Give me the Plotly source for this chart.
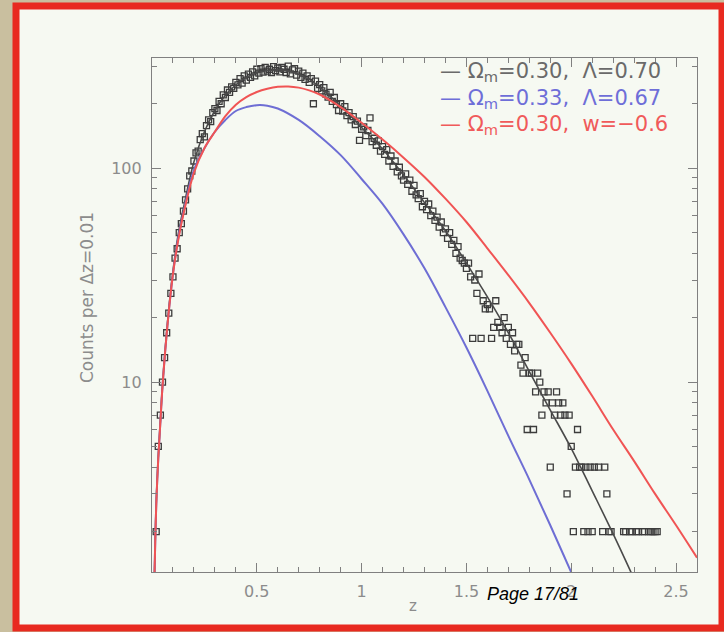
import plotly.graph_objects as go

# ---- data ----
z_bins = [round(0.01 * i, 2) for i in range(1, 246)]
counts = [
    1, 2, 5, 7, 10, 13, 17, 21, 26, 31,
    38, 42, 50, 55, 63, 71, 80, 92, 97, 108,
    118, 120, 136, 145, 140, 158, 168, 165, 182, 190,
    186, 205, 200, 220, 214, 232, 226, 240, 236, 252,
    245, 262, 250, 270, 258, 275, 266, 282, 270, 290,
    278, 292, 281, 296, 284, 290, 280, 298, 286, 294,
    282, 296, 290, 280, 300, 276, 288, 292, 272, 284,
    266, 278, 260, 270, 252, 262, 200, 255, 236, 246,
    230, 238, 222, 215, 226, 205, 214, 198, 186, 200,
    185, 194, 176, 182, 168, 174, 160, 166, 135, 152,
    156, 142, 150, 172, 133, 138, 128, 134, 120, 126,
    116, 122, 108, 114, 102, 108, 96, 101, 92, 88,
    94, 84, 88, 78, 83, 75, 72, 76, 66, 70,
    64, 68, 60, 63, 57, 59, 53, 56, 50, 52,
    47, 50, 44, 46, 40, 43, 38, 37, 36, 34,
    36, 31, 16, 30, 26, 32, 16, 24, 22, 23,
    22, 16, 18, 24, 19, 18, 17, 20, 16, 18,
    15, 17, 14, 15, 15, 12, 11, 13, 6, 11,
    11, 6, 9, 11, 10, 7, 9, 8, 9, 4,
    8, 7, 9, 8, 7, 8, 7, 3, 7, 5,
    2, 4, 6, 4, 4, 2, 4, 2, 4, 2,
    4, 1, 4, 1, 2, 4, 3, 2, 2, 1,
    1, 1, 1, 1, 2, 2, 1, 2, 2, 1,
    2, 2, 1, 2, 2, 1, 2, 2, 2, 2,
    2, 1, 1, 1, 1,
]

z_black = [0.01, 0.02, 0.03, 0.04, 0.05, 0.075, 0.1, 0.125, 0.15, 0.2, 0.25, 0.3, 0.35,
           0.4, 0.45, 0.5, 0.55, 0.6, 0.65, 0.7, 0.75, 0.8, 0.9, 1.0, 1.1, 1.2, 1.3,
           1.4, 1.5, 1.6, 1.7, 1.8, 1.9, 2.0, 2.1, 2.2, 2.3]
n_black = [1.0, 2.7, 4.5, 6.6, 9.6, 19.5, 33, 49, 65, 107, 148, 186, 219,
           245, 266, 279, 286, 288, 285, 275, 260, 240, 195, 155, 123, 93, 69,
           51, 36, 25, 17, 11.2, 7.4, 4.9, 3.1, 1.95, 1.2]

z_blue = [0.01, 0.02, 0.03, 0.04, 0.05, 0.075, 0.1, 0.125, 0.15, 0.2, 0.25, 0.3, 0.35,
          0.4, 0.45, 0.5, 0.55, 0.6, 0.7, 0.8, 0.9, 1.0, 1.1, 1.2, 1.3, 1.4, 1.5,
          1.6, 1.7, 1.8, 1.9, 2.0, 2.1]
n_blue = [1.0, 2.6, 4.4, 6.5, 9.5, 19, 32, 47, 62, 98, 124, 148, 168,
          185, 193, 197, 196, 190, 168, 141, 115, 89, 68, 49, 34, 22.4, 14.5,
          9.1, 5.6, 3.5, 2.14, 1.29, 0.78]

z_red = [0.01, 0.02, 0.03, 0.04, 0.05, 0.075, 0.1, 0.125, 0.15, 0.2, 0.25, 0.3, 0.35,
         0.4, 0.45, 0.5, 0.55, 0.6, 0.65, 0.7, 0.75, 0.8, 0.9, 1.0, 1.1, 1.2, 1.3, 1.4,
         1.5, 1.6, 1.7, 1.8, 1.9, 2.0, 2.1, 2.2, 2.3, 2.4, 2.5, 2.6]
n_red = [1.0, 2.6, 4.4, 6.5, 9.5, 19, 32, 46, 61, 95, 124, 148, 175,
         198, 215, 227, 235, 240, 241, 238, 231, 221, 193, 163, 136, 112, 91, 72,
         56, 42.2, 31.6, 23.4, 17, 12.2, 8.6, 6.0, 4.27, 3.0, 2.14, 1.51]

legend_texts = ["— Ω<sub>m</sub>=0.30,  Λ=0.70",
                "— Ω<sub>m</sub>=0.33,  Λ=0.67",
                "— Ω<sub>m</sub>=0.30,  w=−0.6"]
x_tickvals = [0.5, 1, 1.5, 2, 2.5]
x_ticktext = ["0.5", "1", "1.5", "2", "2.5"]
y_tickvals = [10, 100]
y_ticktext = ["10", "100"]

# ---- style ----
C_BLACK = "#4a4a4a"
C_BLUE = "#6e6ed4"
C_RED = "#f05454"
AX = "#808080"
W, H = 724, 632
L, R, T, B = 152, 697, 58, 572


def px(x):
    return (x - L) / (R - L)


def py(y):
    return (B - y) / (B - T)


fig = go.Figure()
fig.add_trace(go.Scatter(x=z_bins, y=counts, mode="markers",
                         marker=dict(symbol="square-open", size=6, color="#3c3c3c",
                                     line=dict(width=1.3, color="#3c3c3c")),
                         showlegend=False))
fig.add_trace(go.Scatter(x=z_black, y=n_black, mode="lines", line=dict(color=C_BLACK, width=1.6, shape="spline"),
                         showlegend=False))
fig.add_trace(go.Scatter(x=z_blue, y=n_blue, mode="lines", line=dict(color=C_BLUE, width=2, shape="spline"),
                         showlegend=False))
fig.add_trace(go.Scatter(x=z_red, y=n_red, mode="lines", line=dict(color=C_RED, width=2, shape="spline"),
                         showlegend=False))

minor_y = [2, 3, 4, 5, 6, 7, 8, 9, 20, 30, 40, 50, 60, 70, 80, 90, 200, 300]
minor_x = [round(0.1 * i, 1) for i in range(1, 27) if i % 5 != 0]

fig.update_xaxes(range=[0, 2.6], tickvals=x_tickvals, ticktext=x_ticktext,
                 ticks="inside", ticklen=9, tickcolor=AX, tickwidth=1, ticklabelstandoff=5,
                 minor=dict(tickvals=minor_x, ticks="inside", ticklen=5, tickcolor=AX),
                 showline=True, linecolor=AX, linewidth=1.2, mirror="allticks",
                 showgrid=False, zeroline=False,
                 tickfont=dict(family="DejaVu Sans", size=16, color="#8c8c8c"))
fig.update_yaxes(type="log", range=[0.112, 2.515], tickvals=y_tickvals, ticktext=y_ticktext,
                 ticks="inside", ticklen=9, tickcolor=AX, tickwidth=1, ticklabelstandoff=6,
                 minor=dict(tickvals=minor_y, ticks="inside", ticklen=5, tickcolor=AX),
                 showline=True, linecolor=AX, linewidth=1.2, mirror="allticks",
                 showgrid=False, zeroline=False,
                 tickfont=dict(family="DejaVu Sans", size=16, color="#8c8c8c"))

annotations = []
for txt, col, yy in zip(legend_texts, ["#6a6a6a", "#6e6ed8", "#f05a5a"], [72, 99, 125]):
    annotations.append(dict(text=txt, x=px(438), y=py(yy), xref="paper", yref="paper",
                            xanchor="left", yanchor="middle", showarrow=False,
                            font=dict(family="DejaVu Sans", size=21, color=col)))
annotations.append(dict(text="Counts per Δz=0.01", x=px(87), y=py(298), xref="paper", yref="paper",
                        textangle=-90, showarrow=False, xanchor="center", yanchor="middle",
                        font=dict(family="DejaVu Sans", size=17, color="#8c8c8c")))
annotations.append(dict(text="z", x=px(413), y=py(606), xref="paper", yref="paper",
                        showarrow=False, xanchor="center", yanchor="middle",
                        font=dict(family="DejaVu Sans", size=15, color="#8c8c8c")))
annotations.append(dict(text="<i>Page 17/81</i>", x=px(485), y=py(594), xref="paper", yref="paper",
                        showarrow=False, xanchor="left", yanchor="middle",
                        font=dict(family="Liberation Sans", size=18, color="#000000")))

shapes = [dict(type="rect", xref="paper", yref="paper",
               x0=px(16), x1=px(722), y0=py(628), y1=py(6),
               line=dict(color="#e82a20", width=7), fillcolor="#f6f9f2", layer="below")]

fig.update_layout(width=W, height=H, margin=dict(l=L, r=W - R, t=T, b=H - B),
                  paper_bgcolor="#c9bf9f", plot_bgcolor="#f8faf5",
                  annotations=annotations, shapes=shapes, showlegend=False)

fig.write_html("out.html", config={"displayModeBar": False},
               post_script="document.body.style.margin='0px';")
